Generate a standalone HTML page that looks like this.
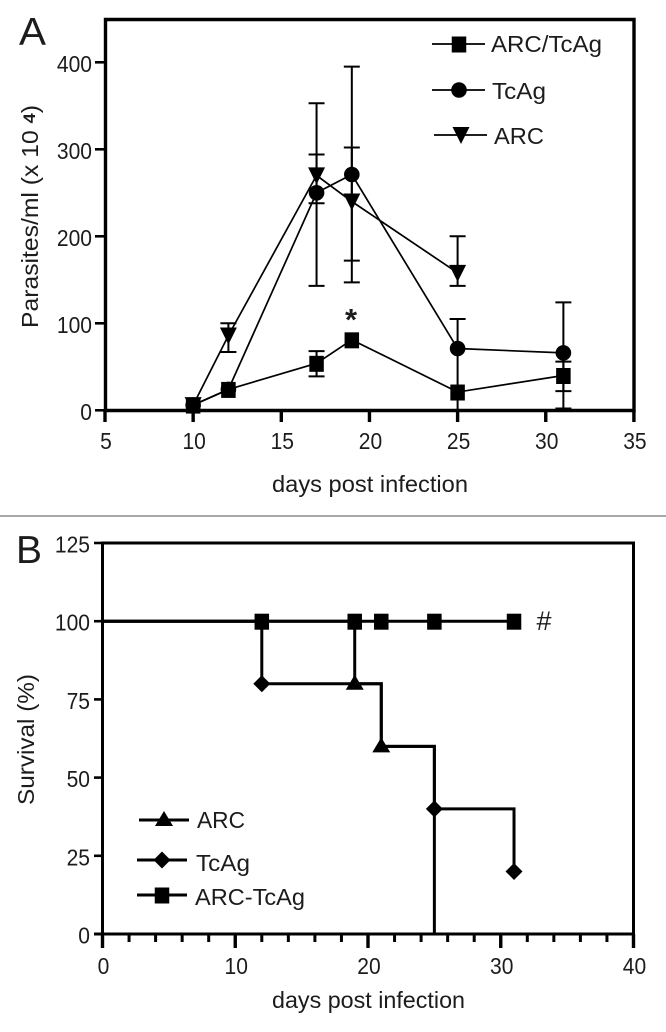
<!DOCTYPE html>
<html lang="en">
<head>
<meta charset="utf-8">
<title>Parasitemia and survival after infection</title>
<style>
html,body{margin:0;padding:0;background:#fff;}
svg{display:block;filter:blur(0.35px);}
text{font-family:"Liberation Sans",Arial,sans-serif;fill:#1c1c1c;}
</style>
</head>
<body>
<svg id="fig" xmlns="http://www.w3.org/2000/svg" width="666" height="1032" viewBox="0 0 666 1032">
  <rect x="0" y="0" width="666" height="1032" fill="#fff"/>
  <rect x="0" y="515" width="666" height="2" fill="#a8a8a8"/>

  <text x="19" y="45" font-size="39" textLength="27" lengthAdjust="spacingAndGlyphs">A</text>
  <text x="16" y="563" font-size="39" textLength="26" lengthAdjust="spacingAndGlyphs">B</text>

  <g id="panelA">
    <path d="M105.500 410.500V19.500H634V410.500H105.500" fill="none" stroke="#000" stroke-width="3.400"/>
    <text transform="translate(38,328) rotate(-90)" font-size="23" textLength="223" lengthAdjust="spacingAndGlyphs">Parasites/ml (x 10 <tspan font-weight="bold" font-size="17" dy="-3">4</tspan><tspan dy="3">)</tspan></text>
    <text x="272" y="492" font-size="23" textLength="196" lengthAdjust="spacingAndGlyphs">days post infection</text>
    <text x="351" y="330" font-size="31" font-weight="bold" text-anchor="middle">*</text>
  </g>

  <g id="panelB">
    <path d="M102.500 934V543H633.500V934" fill="none" stroke="#000" stroke-width="3"/>
    <text transform="translate(34,805) rotate(-90)" font-size="23" textLength="131" lengthAdjust="spacingAndGlyphs">Survival (%)</text>
    <text x="272" y="1008" font-size="23" textLength="193" lengthAdjust="spacingAndGlyphs">days post infection</text>
    <text x="544" y="630" font-size="27" text-anchor="middle">#</text>
  </g>
</svg>
<script>
// ---------- Panel A data ----------
const aDays = [10, 12, 17, 19, 25, 31];
const aComboValues = [6, 24, 54, 81, 21, 40];
const aComboUpper = [6, 24, 68, 81, 21, 56];
const aComboLower = [6, 24, 39, 81, 21, 22];
const aTcAgValues = [6, 24, 250, 271, 71, 66];
const aTcAgUpper = [6, 24, 353, 395, 105, 124];
const aTcAgLower = [6, 24, 143, 147, 0, 2];
const aArcValues = [6, 86, 270, 240, 158];
const aArcDays = [10, 12, 17, 19, 25];
const aArcUpper = [6, 100, 294, 302, 200];
const aArcLower = [6, 67, 238, 172, 143];
const aXTicks = [5, 10, 15, 20, 25, 30, 35];
const aYTicks = [0, 100, 200, 300, 400];

// ---------- Panel B data ----------
const bArcDays = [0, 19, 21, 25];
const bArcSurvival = [100, 80, 60, 0];
const bArcMarkerDays = [19, 21];
const bArcMarkerSurvival = [80, 60];
const bTcAgDays = [0, 12, 21, 25, 31];
const bTcAgSurvival = [100, 80, 60, 40, 20];
const bTcAgMarkerDays = [12, 25, 31];
const bTcAgMarkerSurvival = [80, 40, 20];
const bComboDays = [0, 31];
const bComboSurvival = [100, 100];
const bComboMarkerDays = [12, 19, 21, 25, 31];
const bComboMarkerSurvival = [100, 100, 100, 100, 100];
const bXMajor = [0, 10, 20, 30, 40];
const bXMinor = [2, 4, 6, 8, 12, 14, 16, 18, 22, 24, 26, 28, 32, 34, 36, 38];
const bYTicks = [0, 25, 50, 75, 100, 125];

// ---------- Axis functions ----------
const ax = d => 105 + (d - 5) * 17.63;
const ay = v => 410.300 - v * 0.870;
const bx = d => 102.500 + d * 13.275;
const by = v => 934 - v * 3.128;

const NS = 'http://www.w3.org/2000/svg';
const panelA = document.getElementById('panelA');
const panelB = document.getElementById('panelB');

function mk(parent, tag, attrs, txt) {
  const e = document.createElementNS(NS, tag);
  for (const k in attrs) e.setAttribute(k, attrs[k]);
  if (txt !== undefined) e.textContent = txt;
  parent.appendChild(e);
  return e;
}
function markerShape(parent, kind, x, y) {
  if (kind === 'square') return mk(parent, 'rect', {x: x - 7.250, y: y - 7.500, width: 14.500, height: 16, fill: '#000'});
  if (kind === 'circle') return mk(parent, 'circle', {cx: x, cy: y, r: 7.800, fill: '#000'});
  if (kind === 'down') return mk(parent, 'path', {d: `M${x - 8.500} ${y - 8}H${x + 8.500}L${x} ${y + 9}Z`, fill: '#000'});
  if (kind === 'up') return mk(parent, 'path', {d: `M${x} ${y - 9}L${x + 9} ${y + 6}H${x - 9}Z`, fill: '#000'});
  return mk(parent, 'path', {d: `M${x} ${y - 8.500}L${x + 8.500} ${y}L${x} ${y + 8.500}L${x - 8.500} ${y}Z`, fill: '#000'});
}
function numLabel(parent, x, y, s, anchor) {
  return mk(parent, 'text', {x: x, y: y, 'font-size': 23, 'text-anchor': anchor, textLength: s.length * 11.7, lengthAdjust: 'spacingAndGlyphs'}, s);
}

// ---------- Panel A axes ----------
aXTicks.forEach(t => {
  const tick = mk(panelA, 'line', {x1: ax(t), x2: ax(t), y1: 410, y2: 422, stroke: '#000', 'stroke-width': 3.400});
  
  
  const lab = numLabel(panelA, ax(t) + 1, 449, String(t), 'middle');
  
  
});
aYTicks.forEach(t => {
  const tick = mk(panelA, 'line', {x1: 95, x2: 105, y1: ay(t), y2: ay(t), stroke: '#000', 'stroke-width': 2.600});
  
  
  const lab = numLabel(panelA, 92, ay(t) + 9.500, String(t), 'end');
  
  
});

// ---------- Panel A series ----------
function errorBars(days, upper, lower, values, name) {
  days.forEach((d, i) => {
    if (upper[i] === values[i] && lower[i] === values[i]) return;
    const g = mk(panelA, 'path', {
      d: `M${ax(d)} ${ay(upper[i])}V${ay(lower[i])}M${ax(d) - 8} ${ay(upper[i])}H${ax(d) + 8}M${ax(d) - 8} ${ay(lower[i])}H${ax(d) + 8}`,
      fill: 'none', stroke: '#000', 'stroke-width': 2
    });
    
    
  });
}
function seriesLineA(days, values, name) {
  const l = mk(panelA, 'polyline', {
    points: days.map((d, i) => ax(d) + ',' + ay(values[i])).join(' '),
    fill: 'none', stroke: '#000', 'stroke-width': 1.700
  });
  
  
}
errorBars(aArcDays, aArcUpper, aArcLower, aArcValues, 'arc-error-bar');
errorBars(aDays, aTcAgUpper, aTcAgLower, aTcAgValues, 'tcag-error-bar');
errorBars(aDays, aComboUpper, aComboLower, aComboValues, 'arc-tcag-error-bar');
seriesLineA(aArcDays, aArcValues, 'arc-line');
seriesLineA(aDays, aTcAgValues, 'tcag-line');
seriesLineA(aDays, aComboValues, 'arc-tcag-line');
aArcDays.forEach((d, i) => {
  const m = markerShape(panelA, 'down', ax(d), ay(aArcValues[i]));
  
  
});
aDays.forEach((d, i) => {
  const m = markerShape(panelA, 'circle', ax(d), ay(aTcAgValues[i]));
  
  
});
aDays.forEach((d, i) => {
  const m = markerShape(panelA, 'square', ax(d), ay(aComboValues[i]));
  
  
});

// ---------- Panel A legend ----------
const legendAKinds = ['square', 'circle', 'down'];
const legendALabels = ['ARC/TcAg', 'TcAg', 'ARC'];
const legendAWidths = [111, 54, 50];
[[432, 44, 491, 52], [432, 90, 492, 99], [434, 135, 494, 144]].forEach((p, i) => {
  const ln = mk(panelA, 'line', {x1: p[0], x2: p[0] + 53, y1: p[1], y2: p[1], stroke: '#000', 'stroke-width': 1.800});
  
  
  const mkr = markerShape(panelA, legendAKinds[i], p[0] + 27, p[1]);
  
  
  const t = mk(panelA, 'text', {x: p[2], y: p[3], 'font-size': 23, textLength: legendAWidths[i], lengthAdjust: 'spacingAndGlyphs'}, legendALabels[i]);
  
  
});

// ---------- Panel B axes ----------
bXMajor.forEach(t => {
  const tick = mk(panelB, 'line', {x1: bx(t), x2: bx(t), y1: 934, y2: 948, stroke: '#000', 'stroke-width': 3.400});
  
  
  const lab = numLabel(panelB, bx(t) + 1, 974, String(t), 'middle');
  
  
});
bXMinor.forEach(t => {
  const tick = mk(panelB, 'line', {x1: bx(t), x2: bx(t), y1: 934, y2: 942, stroke: '#000', 'stroke-width': 3});
  
  
});
bYTicks.forEach(t => {
  const tick = mk(panelB, 'line', {x1: 94, x2: 103, y1: by(t), y2: by(t), stroke: '#000', 'stroke-width': 2.600});
  
  
  const lab = numLabel(panelB, 90, by(t) + 9.500, String(t), 'end');
  
  
});
const xAxisB = mk(panelB, 'line', {x1: 94, x2: 635, y1: 934, y2: 934, stroke: '#000', 'stroke-width': 3});



// ---------- Panel B series ----------
function stepPath(days, vals) {
  let s = `M${bx(days[0])} ${by(vals[0])}`;
  for (let i = 1; i < days.length; i++) s += `H${bx(days[i])}V${by(vals[i])}`;
  return s;
}
const arcStep = mk(panelB, 'path', {d: stepPath(bArcDays, bArcSurvival), fill: 'none', stroke: '#000', 'stroke-width': 3});


const tcagStep = mk(panelB, 'path', {d: stepPath(bTcAgDays, bTcAgSurvival), fill: 'none', stroke: '#000', 'stroke-width': 3});


const comboStep = mk(panelB, 'path', {d: stepPath(bComboDays, bComboSurvival), fill: 'none', stroke: '#000', 'stroke-width': 3});


bArcMarkerDays.forEach((d, i) => {
  const m = markerShape(panelB, 'up', bx(d), by(bArcMarkerSurvival[i]));
  
  
});
bTcAgMarkerDays.forEach((d, i) => {
  const m = markerShape(panelB, 'diamond', bx(d), by(bTcAgMarkerSurvival[i]));
  
  
});
bComboMarkerDays.forEach((d, i) => {
  const m = markerShape(panelB, 'square', bx(d), by(bComboMarkerSurvival[i]));
  
  
});

// ---------- Panel B legend ----------
const legendBKinds = ['up', 'diamond', 'square'];
const legendBLabels = ['ARC', 'TcAg', 'ARC-TcAg'];
const legendBWidths = [48, 54, 110];
[[139, 820, 197, 828], [137, 860, 196, 871], [137, 895, 195, 905]].forEach((p, i) => {
  const ln = mk(panelB, 'line', {x1: p[0], x2: p[0] + 50, y1: p[1], y2: p[1], stroke: '#000', 'stroke-width': 3});
  
  
  const mkr = markerShape(panelB, legendBKinds[i], p[0] + 25, p[1]);
  
  
  const t = mk(panelB, 'text', {x: p[2], y: p[3], 'font-size': 23, textLength: legendBWidths[i], lengthAdjust: 'spacingAndGlyphs'}, legendBLabels[i]);
  
  
});
</script>
</body>
</html>
